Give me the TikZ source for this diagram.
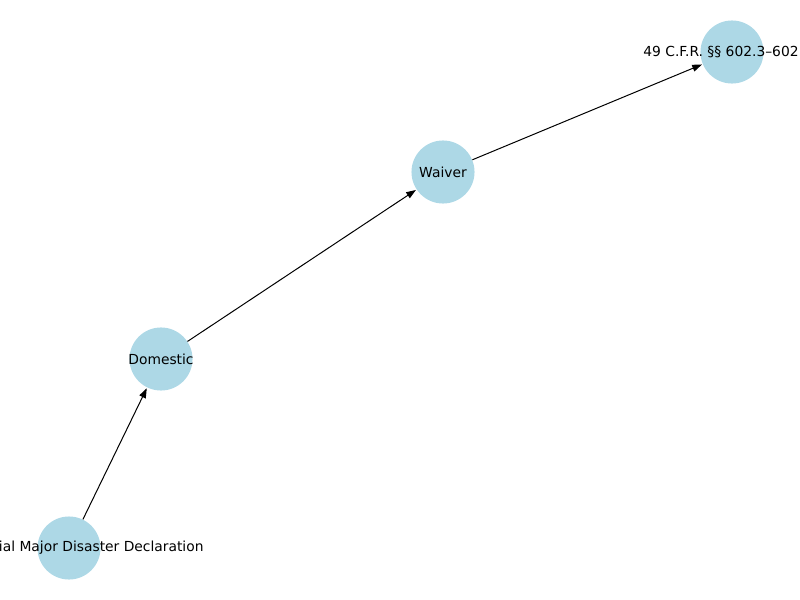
\documentclass[tikz,border=0pt]{standalone}
\usepackage{fontspec}
\setmainfont{DejaVu Sans}
\usetikzlibrary{arrows.meta}
\begin{document}
\begin{tikzpicture}[x=0.72bp,y=-0.72bp,
  dot/.style={circle,fill=lightblue,draw=none,minimum size=45.4bp,inner sep=0pt},
  lbl/.style={font=\fontsize{10}{12}\selectfont,text=black,inner sep=0pt},
  edge/.style={-{Stealth[length=7bp,width=5bp,inset=0pt]},line width=0.72bp,black,shorten >=0.5bp}]
\definecolor{lightblue}{HTML}{ADD8E6}
\useasboundingbox (0,0) rectangle (800,600);
\clip (0,0) rectangle (800,600);
\node[dot,label={[lbl]center:Presidential Major Disaster Declaration}] (pmdd) at (69,548) {};
\node[dot,label={[lbl]center:Domestic}] (dom) at (161,359) {};
\node[dot,label={[lbl]center:Waiver}] (wai) at (443,172) {};
\node[dot,label={[lbl]center:49 C.F.R. §§ 602.3–602.17}] (cfr) at (732,52) {};
\draw[edge] (pmdd) -- (dom);
\draw[edge] (dom) -- (wai);
\draw[edge] (wai) -- (cfr);
\end{tikzpicture}
\end{document}
